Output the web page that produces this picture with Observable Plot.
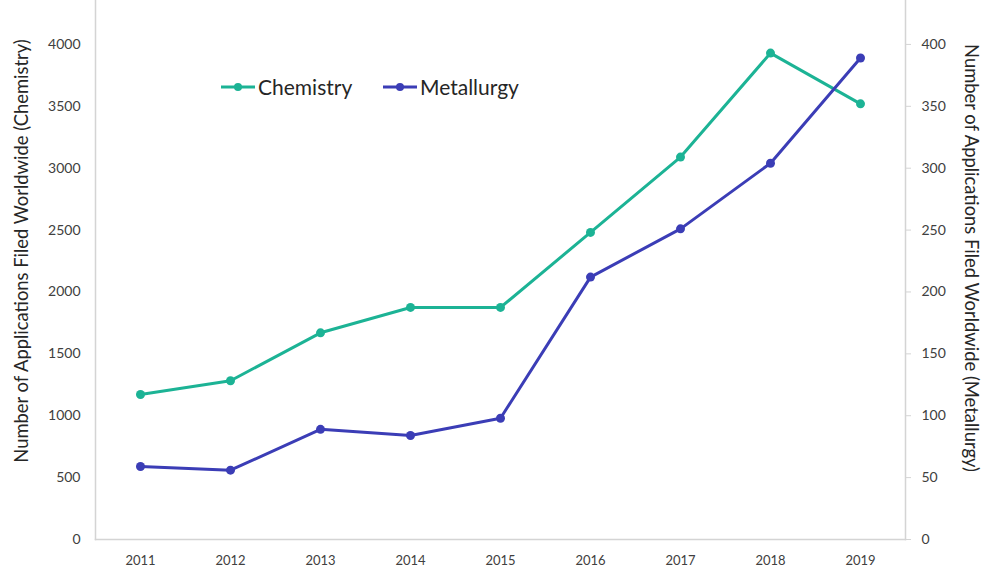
<!DOCTYPE html>
<html>
<head>
<meta charset="utf-8">
<script src="https://cdn.jsdelivr.net/npm/d3@7"></script>
<script src="https://cdn.jsdelivr.net/npm/@observablehq/plot@0.6"></script>
<style>
  html, body { margin: 0; padding: 0; background: #fff; }
  #wrap { position: relative; width: 996px; height: 585px; font-family: Lato, sans-serif; }
  #legend { position: absolute; left: 0; top: 0; }
  .lg { position: absolute; display: flex; align-items: center; font-size: 21px; color: #262626; white-space: nowrap; }
  .lg svg { margin-right: 3px; }
</style>
</head>
<body>
<div id="wrap"><div id="chart"></div><div id="legend"></div></div>
<script>
const years = [2011, 2012, 2013, 2014, 2015, 2016, 2017, 2018, 2019];
const chemistry = [1172, 1283, 1670, 1875, 1875, 2481, 3090, 3930, 3520];
const metallurgy = [59, 56, 89, 84, 98, 212, 251, 304, 389];
const seriesNames = ["Chemistry", "Metallurgy"];
const colors = ["#1cb395", "#3b3db6"];
const leftTicks = [0, 500, 1000, 1500, 2000, 2500, 3000, 3500, 4000];
const rightTicks = [0, 50, 100, 150, 200, 250, 300, 350, 400];
const leftTitle = "Number of Applications Filed Worldwide (Chemistry)";
const rightTitle = "Number of Applications Filed Worldwide (Metallurgy)";
const ratio = 10; // right axis unit = left axis unit / 10

const chemData = years.map((y, i) => ({year: y, value: chemistry[i]}));
const metData = years.map((y, i) => ({year: y, value: metallurgy[i] * ratio}));

const axisColor = "#d4d4d4";
const chart = Plot.plot({
  width: 996,
  height: 585,
  marginLeft: 95,
  marginRight: 91,
  marginTop: 0,
  marginBottom: 46,
  style: {fontFamily: "Lato, sans-serif", fontSize: "14px", color: "#404040", background: "#fff"},
  x: {type: "point", domain: years, padding: 0.5},
  y: {domain: [0, 4355]},
  marks: [
    Plot.frame({anchor: "left", stroke: axisColor, strokeWidth: 1.5}),
    Plot.frame({anchor: "right", stroke: axisColor, strokeWidth: 1.5}),
    Plot.frame({anchor: "bottom", stroke: axisColor, strokeWidth: 1.5}),
    Plot.axisX({tickSize: 0, tickPadding: 16, tickFormat: d => String(d), label: null, fontSize: 13}),
    Plot.axisY({anchor: "left", ticks: leftTicks, tickSize: 0, tickPadding: 15, tickFormat: d => String(d), label: null}),
    Plot.axisY({anchor: "right", ticks: rightTicks.map(v => v * ratio), tickSize: 5, stroke: axisColor, tickPadding: 11, tickFormat: d => String(d / ratio), label: null}),
    Plot.text([leftTitle], {text: d => d, frameAnchor: "left", textAnchor: "middle", lineAnchor: "middle", rotate: -90, dx: -73, dy: -19, fontSize: 18.4, fill: "#262626"}),
    Plot.text([rightTitle], {text: d => d, frameAnchor: "right", textAnchor: "middle", lineAnchor: "middle", rotate: 90, dx: 65, dy: -12, fontSize: 18.4, fill: "#262626"}),
    Plot.line(chemData, {x: "year", y: "value", stroke: colors[0], strokeWidth: 3}),
    Plot.dot(chemData, {x: "year", y: "value", fill: colors[0], r: 4.5}),
    Plot.line(metData, {x: "year", y: "value", stroke: colors[1], strokeWidth: 3}),
    Plot.dot(metData, {x: "year", y: "value", fill: colors[1], r: 4.5})
  ]
});
document.getElementById("chart").appendChild(chart);

const legend = document.getElementById("legend");
const legendLeft = [221, 383];
seriesNames.forEach((name, i) => {
  const item = document.createElement("div");
  item.className = "lg";
  item.style.left = legendLeft[i] + "px";
  item.style.top = "74px";
  item.innerHTML = `<svg width="34" height="12"><line x1="0" y1="6" x2="34" y2="6" stroke="${colors[i]}" stroke-width="3"/><circle cx="17" cy="6" r="4" fill="${colors[i]}"/></svg><span>${name}</span>`;
  legend.appendChild(item);
});
</script>
</body>
</html>
